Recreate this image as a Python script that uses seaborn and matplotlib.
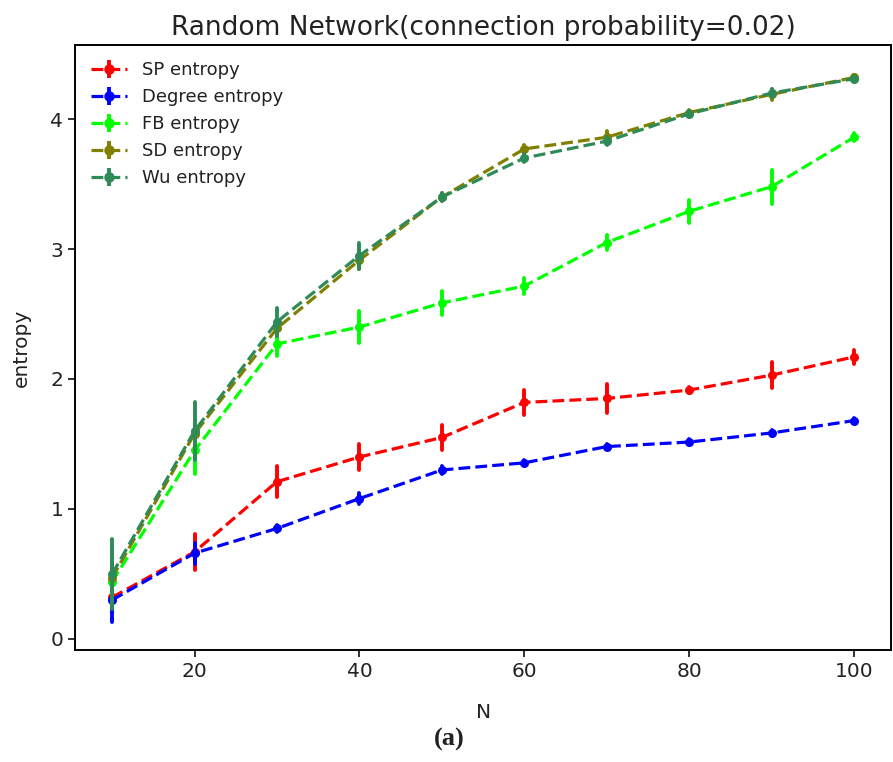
import pandas as pd
import matplotlib
matplotlib.use("Agg")
import matplotlib.pyplot as plt
import seaborn as sns
import numpy as np

# node counts
N = [10, 20, 30, 40, 50, 60, 70, 80, 90, 100]

# mean entropy per method
sp_mean = [0.32, 0.67, 1.21, 1.40, 1.55, 1.82, 1.85, 1.915, 2.03, 2.17]
deg_mean = [0.30, 0.66, 0.85, 1.08, 1.30, 1.355, 1.48, 1.515, 1.585, 1.68]
fb_mean = [0.44, 1.45, 2.27, 2.40, 2.585, 2.715, 3.05, 3.29, 3.48, 3.86]
sd_mean = [0.47, 1.58, 2.39, 2.915, 3.40, 3.77, 3.86, 4.05, 4.19, 4.32]
wu_mean = [0.50, 1.60, 2.44, 2.95, 3.40, 3.70, 3.83, 4.04, 4.20, 4.31]

# error bar half-lengths
sp_err = [0.05, 0.14, 0.12, 0.10, 0.095, 0.095, 0.115, 0.02, 0.10, 0.055]
deg_err = [0.17, 0.08, 0.03, 0.04, 0.03, 0.02, 0.02, 0.02, 0.02, 0.02]
fb_err = [0.17, 0.18, 0.095, 0.125, 0.095, 0.06, 0.06, 0.09, 0.13, 0.03]
sd_err = [0.10, 0.10, 0.06, 0.07, 0.03, 0.03, 0.05, 0.02, 0.04, 0.02]
wu_err = [0.27, 0.22, 0.11, 0.10, 0.03, 0.03, 0.03, 0.02, 0.03, 0.02]

labels = ["SP entropy", "Degree entropy", "FB entropy", "SD entropy", "Wu entropy"]
colors = ["red", "blue", "lime", "olive", "seagreen"]

series = {
    "SP entropy": (sp_mean, sp_err),
    "Degree entropy": (deg_mean, deg_err),
    "FB entropy": (fb_mean, fb_err),
    "SD entropy": (sd_mean, sd_err),
    "Wu entropy": (wu_mean, wu_err),
}

# two rows per point (mean-err, mean+err): mean gives the marker, the
# 0-100 percentile interval gives the error bar
rows = []
for name, (m, e) in series.items():
    for x, y, d in zip(N, m, e):
        rows.append((x, name, y - d))
        rows.append((x, name, y + d))
df = pd.DataFrame(rows, columns=["N", "method", "entropy"])

sns.set_style("white")
plt.rcParams["font.family"] = ["DejaVu Sans"]
plt.rcParams["axes.edgecolor"] = "black"
plt.rcParams["text.color"] = "#222222"
plt.rcParams["axes.labelcolor"] = "#222222"
plt.rcParams["xtick.bottom"] = True
plt.rcParams["ytick.left"] = True

fig = plt.figure(figsize=(8.93, 7.62), dpi=100)
ax = fig.add_axes([0.084, 0.147, 0.914, 0.794])

sns.lineplot(data=df, x="N", y="entropy", hue="method", hue_order=labels,
             palette=colors, estimator="mean", errorbar=("pi", 100),
             err_style="bars", err_kws={"linewidth": 2.8},
             linestyle="--", linewidth=2.3, marker="o", markersize=6.5,
             markeredgewidth=0, legend=False, ax=ax)

# legend with errorbar-style handles
handles = []
for lab, c in zip(labels, colors):
    h = ax.errorbar([np.nan], [np.nan], yerr=[np.nan], fmt="--o", color=c,
                    linewidth=2.3, elinewidth=2.8, markersize=6.5, label=lab)
    handles.append(h)
ax.legend(handles=handles, labels=labels, loc="upper left", frameon=False,
          fontsize=13, handlelength=2.0)

for s in ax.spines.values():
    s.set_linewidth(1.4)
    s.set_color("black")
ax.tick_params(labelsize=14.5, length=5, width=1.3, colors="#222222")
ax.set_xticks([20, 40, 60, 80, 100])
ax.set_yticks([0, 1, 2, 3, 4])
ax.set_xlim(5.5, 104.5)
ax.set_ylim(-0.085, 4.57)
ax.set_title("Random Network(connection probability=0.02)", fontsize=19, pad=7)
ax.set_xlabel("N", fontsize=14.5, labelpad=16)
ax.set_ylabel("entropy", fontsize=14.5, labelpad=14)

fig.text(0.503, 0.029, "(a)", ha="center", va="center", fontsize=19,
         fontweight="bold", family=["Liberation Serif", "DejaVu Serif"])

fig.savefig("out.png", dpi=100)
